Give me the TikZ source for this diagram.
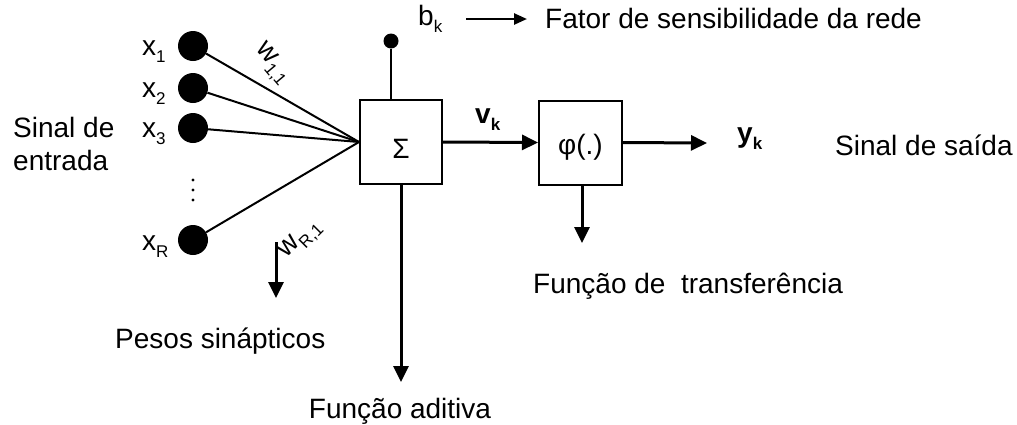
\documentclass[tikz,border=0pt]{standalone}
\usepackage{fontspec}
\setmainfont{Liberation Sans}
\usetikzlibrary{arrows.meta}
\newcommand{\lo}[1]{\raisebox{-7pt}{\fontsize{17}{17}\selectfont #1}}
\begin{document}
\begin{tikzpicture}[x=1pt,y=-1pt,
  every node/.style={inner sep=0pt, font=\fontsize{28}{33}\selectfont},
  indot/.style={circle, fill=black, minimum size=30pt},
  biasdot/.style={circle, fill=black, minimum size=15pt},
  tinydot/.style={circle, fill=black, minimum size=3.2pt},
  blk/.style={draw, line width=2pt, minimum width=82pt, minimum height=84pt},
  wire/.style={line width=2pt},
  arr/.style={line width=3pt, -{Triangle[length=16pt,width=15pt]}},
  arrsm/.style={line width=2.5pt, -{Triangle[length=13pt,width=11pt]}},
  lbl/.style={anchor=base west},
]
\useasboundingbox (0,0) rectangle (1017,424);

% inputs
\node[indot] (x1) at (193,46) {};
\node[indot] (x2) at (193,88) {};
\node[indot] (x3) at (193,128) {};
\node[indot] (xR) at (193,240) {};
\node[lbl] (lx1) at (142,55) {x\lo{1}};
\node[lbl] (lx2) at (142,97) {x\lo{2}};
\node[lbl] (lx3) at (142,137) {x\lo{3}};
\node[lbl] (lxR) at (142,250) {x\lo{R}};
\node[tinydot] (vd1) at (193,180) {};
\node[tinydot] (vd2) at (193,190) {};
\node[tinydot] (vd3) at (193,200) {};

\node[lbl, align=left] (entrada) at (13,170) {Sinal de\\entrada};

% summing block
\node[blk, text height=32pt, text depth=0pt] (sum) at (401,142) {Σ};
\node[blk, minimum width=83pt, text height=23pt, text depth=0pt] (phi) at (580.5,142.5) {φ(.)};

\draw[wire] (x1) -- (sum.west);
\draw[wire] (x2) -- (sum.west);
\draw[wire] (x3) -- (sum.west);
\draw[wire] (xR) -- (sum.west);

\node[rotate=-50] (w11) at (272,64) {w\lo{1,1}};
\node[rotate=45] (wR1) at (301,240) {w\lo{R,1}};
\coordinate (wa) at (276,242);
\coordinate (wb) at (276,298);
\draw[arr] (wa) -- (wb);
\node[lbl] (pesos) at (115,348) {Pesos sinápticos};

% bias
\node[biasdot] (bias) at (391,41) {};
\draw[wire] (bias) -- (bias |- sum.north);
\node[lbl] (bk) at (418,25) {b\lo{k}};
\coordinate (ba) at (466,19);
\coordinate (bb) at (527,19);
\draw[arrsm] (ba) -- (bb);
\node[lbl] (fator) at (545,28) {Fator de sensibilidade da rede};

% forward path
\draw[arr] (sum.east) -- (phi.west);
\node[lbl] (vk) at (475,123) {\textbf{v\lo{k}}};
\coordinate (yo) at (707,143);
\draw[arr] (phi.east) -- (yo);
\node[lbl] (yk) at (737,142) {\textbf{y\lo{k}}};
\node[lbl] (saida) at (835,155) {Sinal de saída};

% downward arrows
\coordinate (pd) at (582,243);
\draw[arr] (phi.south -| pd) -- (pd);
\node[lbl] (transf) at (533,293) {Função de\ \ transferência};
\coordinate (sd) at (401,382);
\draw[arr] (sum.south) -- (sd);
\node[anchor=base] (aditiva) at (400,418) {Função aditiva};
\end{tikzpicture}
\end{document}
